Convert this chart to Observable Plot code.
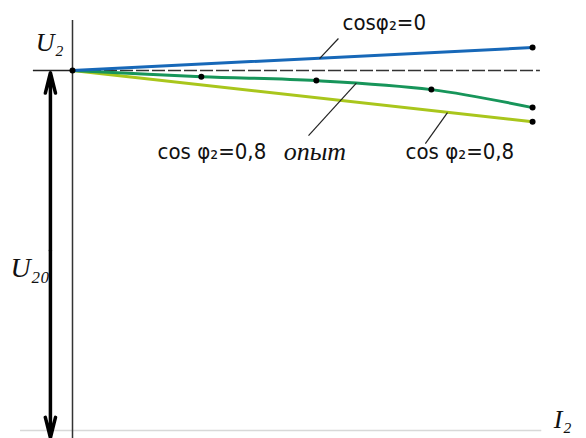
<!DOCTYPE html>
<html>
<head>
<meta charset="utf-8">
<script src="https://cdn.jsdelivr.net/npm/d3@7"></script>
<script src="https://cdn.jsdelivr.net/npm/@observablehq/plot@0.6"></script>
<style>
  html, body { margin: 0; padding: 0; background: #fff; }
  svg { display: block; }
</style>
</head>
<body>
<script>
// Relative load current I2 (I2 / I2nom) and relative secondary voltage U2 / U20
const expI = [0, 0.28, 0.53, 0.78, 1.0];          // experiment, cos φ2 = 0,8
const expU = [1, 0.983, 0.972, 0.947, 0.897];
const cap0I = [0, 1.0];                           // cos φ2 = 0 (capacitive)
const cap0U = [1, 1.064];
const ind08I = [0, 1.0];                          // cos φ2 = 0,8 (calculated)
const ind08U = [1, 0.858];

// Annotation anchors (data units)
const labelText = ["cosφ₂=0", "cos φ₂=0,8", "cos φ₂=0,8"];
const labelX = [0.587, 0.185, 0.724];
const labelY = [1.131, 0.775, 0.775];
const leaderX1 = [0.578, 0.513, 0.767];
const leaderY1 = [1.089, 0.819, 0.797];
const leaderX2 = [0.537, 0.617, 0.815];
const leaderY2 = [1.033, 0.965, 0.883];
const U20 = 1;

const toRows = (xs, ys) => xs.map((x, i) => ({x, y: ys[i]}));
const exp = toRows(expI, expU);
const cap0 = toRows(cap0I, cap0U);
const ind08 = toRows(ind08I, ind08U);
const labels = labelText.map((t, i) => ({t, x: labelX[i], y: labelY[i]}));
const leaders = leaderX1.map((x1, i) => ({x1, y1: leaderY1[i], x2: leaderX2[i], y2: leaderY2[i]}));
const dots = [...exp, cap0[1], ind08[1]];

const sans = "'Liberation Sans Narrow', 'DejaVu Sans Condensed', 'Liberation Sans', sans-serif";
const serif = "'Liberation Serif', 'DejaVu Serif', serif";

const chart = Plot.plot({
  width: 586,
  height: 438,
  marginTop: 20,
  marginBottom: 8,
  marginLeft: 72,
  marginRight: 30,
  x: {domain: [0, 1.052], axis: null},
  y: {domain: [0, 1.139], axis: null},
  style: {background: "#fff", overflow: "visible"},
  marks: [
    // bottom (I2) axis line, faint
    Plot.ruleY([0], {x1: -0.113, x2: 1.02, stroke: "#d8d8d8", strokeWidth: 1.5}),
    // vertical U2 axis
    Plot.ruleX([0], {y1: -0.03, y2: 1.139, stroke: "#333", strokeWidth: 1.5}),
    // U20 reference level
    Plot.ruleY([U20], {x1: -0.085, x2: 0, stroke: "#222", strokeWidth: 1.5}),
    Plot.ruleY([U20], {x1: 0, x2: 1.017, stroke: "#333", strokeWidth: 1.6, strokeDasharray: "13,3"}),
    // U20 double arrow
    Plot.arrow([{x: -0.048, y1: 0.5, y2: 0.994}, {x: -0.048, y1: 0.5, y2: -0.02}], {
      x1: "x", x2: "x", y1: "y1", y2: "y2",
      stroke: "#000", strokeWidth: 3.5, headLength: 9, headAngle: 28
    }),
    // curves
    Plot.line(ind08, {x: "x", y: "y", stroke: "#a9c61c", strokeWidth: 3}),
    Plot.line(exp, {x: "x", y: "y", stroke: "#17955a", strokeWidth: 3, curve: "catmull-rom"}),
    Plot.line(cap0, {x: "x", y: "y", stroke: "#1768b8", strokeWidth: 3}),
    Plot.dot(dots, {x: "x", y: "y", r: 3, fill: "#000"}),
    // leader lines
    Plot.link(leaders, {x1: "x1", y1: "y1", x2: "x2", y2: "y2", stroke: "#222", strokeWidth: 1.2}),
    // labels
    Plot.text(labels, {x: "x", y: "y", text: "t", textAnchor: "start", fontSize: 22, fontFamily: sans, fill: "#111"}),
    Plot.text(["опыт"], {x: 0.459, y: 0.775, text: d => d, textAnchor: "start", fontSize: 26, fontStyle: "italic", fontFamily: serif, fill: "#111"}),
    Plot.text(["U₂"], {x: -0.080, y: 1.078, text: d => d, textAnchor: "start", fontSize: 26, fontStyle: "italic", fontFamily: serif, fill: "#111"}),
    Plot.text(["U₂₀"], {x: -0.135, y: 0.45, text: d => d, textAnchor: "start", fontSize: 28, fontStyle: "italic", fontFamily: serif, fill: "#111"}),
    Plot.text(["I₂"], {x: 1.046, y: 0.03, text: d => d, textAnchor: "start", fontSize: 26, fontStyle: "italic", fontFamily: serif, fill: "#111"})
  ]
});
document.body.appendChild(chart);
</script>
</body>
</html>
